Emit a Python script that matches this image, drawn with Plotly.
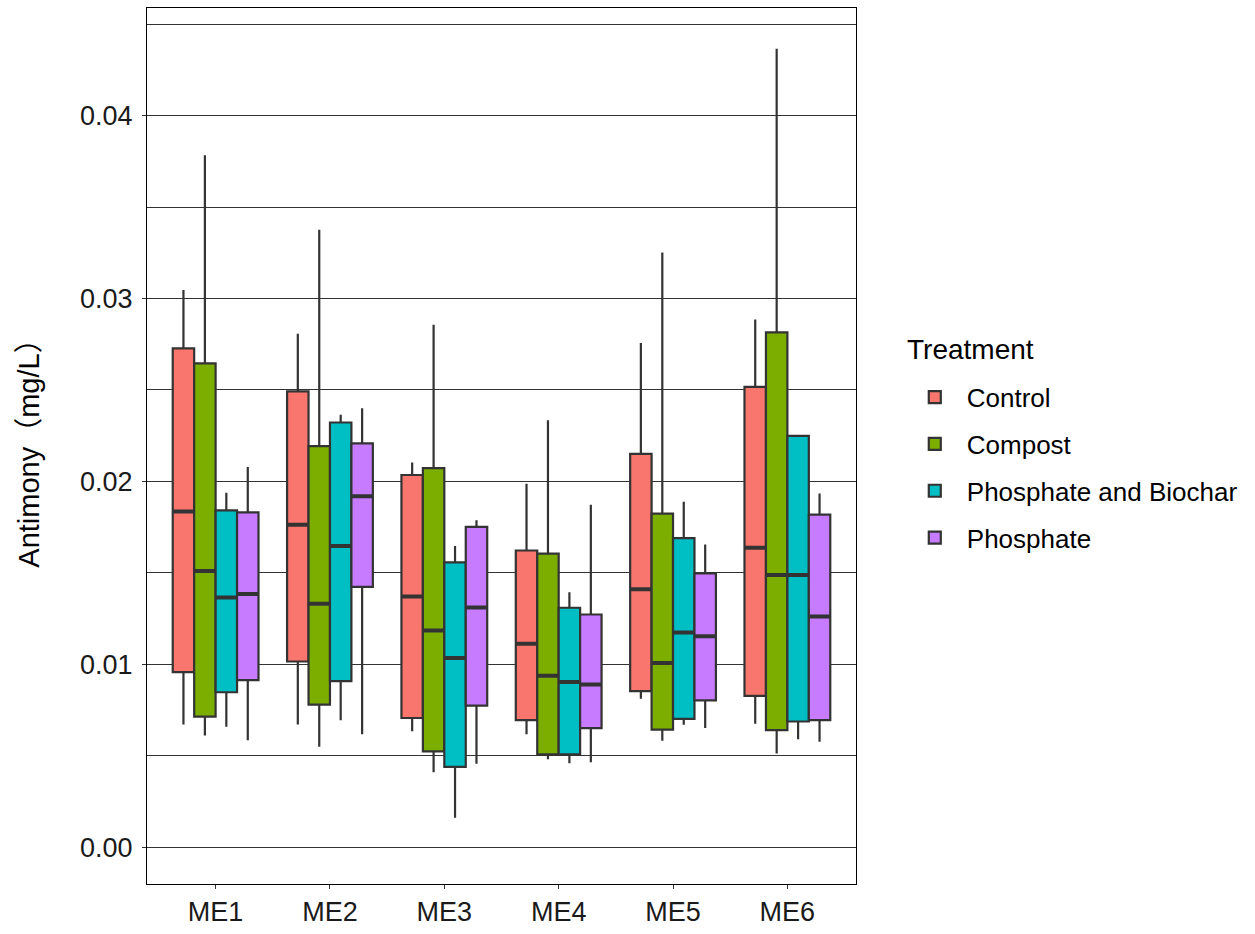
import plotly.graph_objects as go

categories = ["ME1", "ME2", "ME3", "ME4", "ME5", "ME6"]
treatments = ["Control", "Compost", "Phosphate and Biochar", "Phosphate"]
colors = ["#F8766D", "#7CAE00", "#00BFC4", "#C77CFF"]

# lower whisker, q1, median, q3, upper whisker per treatment (ME1..ME6)
control_low = [0.0067, 0.0067, 0.00634, 0.00617, 0.00812, 0.00675]
control_q1 = [0.00957, 0.01015, 0.00706, 0.00694, 0.00853, 0.00827]
control_med = [0.01836, 0.01763, 0.0137, 0.01112, 0.0141, 0.01637]
control_q3 = [0.02727, 0.02492, 0.02035, 0.01622, 0.0215, 0.02517]
control_up = [0.03046, 0.02807, 0.02103, 0.01987, 0.02757, 0.02885]

compost_low = [0.0061, 0.00549, 0.0041, 0.00481, 0.00582, 0.00512]
compost_q1 = [0.00714, 0.00779, 0.00524, 0.00507, 0.00643, 0.0064]
compost_med = [0.0151, 0.01331, 0.01185, 0.00937, 0.01007, 0.01488]
compost_q3 = [0.02645, 0.02193, 0.02072, 0.01605, 0.01824, 0.02815]
compost_up = [0.03784, 0.03376, 0.02856, 0.02334, 0.03252, 0.04366]

pb_low = [0.00658, 0.00694, 0.0016, 0.00459, 0.00669, 0.0059]
pb_q1 = [0.00847, 0.00908, 0.00439, 0.00507, 0.00701, 0.00687]
pb_med = [0.01365, 0.01646, 0.01034, 0.00903, 0.01173, 0.01488]
pb_q3 = [0.01841, 0.02322, 0.01557, 0.01309, 0.0169, 0.02249]
pb_up = [0.01938, 0.02365, 0.01646, 0.01394, 0.01888, 0.02249]

ph_low = [0.00585, 0.00617, 0.00456, 0.00464, 0.00652, 0.00576]
ph_q1 = [0.00913, 0.01423, 0.00774, 0.00651, 0.00803, 0.00695]
ph_med = [0.01384, 0.01919, 0.01311, 0.00889, 0.01153, 0.01261]
ph_q3 = [0.01831, 0.02208, 0.01751, 0.01272, 0.01497, 0.01818]
ph_up = [0.02079, 0.024, 0.01787, 0.01872, 0.01655, 0.01934]

stats = [
    (control_low, control_q1, control_med, control_q3, control_up),
    (compost_low, compost_q1, compost_med, compost_q3, compost_up),
    (pb_low, pb_q1, pb_med, pb_q3, pb_up),
    (ph_low, ph_q1, ph_med, ph_q3, ph_up),
]

y_ticks = [0.0, 0.01, 0.02, 0.03, 0.04]
y_labels = ["0.00", "0.01", "0.02", "0.03", "0.04"]

fig = go.Figure()
for name, col, (lo, q1, med, q3, up) in zip(treatments, colors, stats):
    fig.add_trace(go.Box(
        name=name,
        x=categories,
        lowerfence=lo, q1=q1, median=med, q3=q3, upperfence=up,
        fillcolor=col,
        line=dict(color="#333333", width=2.2),
        boxpoints=False,
        whiskerwidth=0,
        legendgroup=name,
        offsetgroup=name,
    ))
# thicker median bars (ggplot style), drawn at the same offsets
for name, col, (lo, q1, med, q3, up) in zip(treatments, colors, stats):
    fig.add_trace(go.Box(
        name=name,
        x=categories,
        lowerfence=med, q1=med, median=med, q3=med, upperfence=med,
        fillcolor=col,
        line=dict(color="#333333", width=4),
        boxpoints=False,
        whiskerwidth=0,
        legendgroup=name,
        offsetgroup=name,
        showlegend=False,
        hoverinfo="skip",
    ))

fig.add_annotation(
    text="Treatment", xref="paper", yref="paper",
    x=(905 - 147) / 709, y=(886 - 350) / 879,
    xanchor="left", yanchor="middle", showarrow=False,
    font=dict(size=28, color="black"),
)

fig.update_layout(
    width=1255, height=934,
    boxmode="group", boxgap=0.25, boxgroupgap=0.0,
    plot_bgcolor="white", paper_bgcolor="white",
    margin=dict(l=147, r=399, t=7, b=48),
    font=dict(family="Liberation Sans, Noto Sans CJK KR, Arial, sans-serif", size=26, color="black"),
    legend=dict(
        x=1.066, xanchor="left", y=0.5825, yanchor="top",
        font=dict(size=26), tracegroupgap=10,
        itemwidth=54,
        bgcolor="rgba(0,0,0,0)",
    ),
    xaxis=dict(
        type="category", range=[-0.6, 5.6],
        showgrid=False, showline=True, mirror=True, linecolor="black", linewidth=1,
        ticks="outside", ticklen=4, tickcolor="#333333",
        tickfont=dict(size=27, color="#1a1a1a"),
    ),
    yaxis=dict(
        range=[-0.002016, 0.045886],
        tickvals=y_ticks, ticktext=y_labels,
        showgrid=True, gridcolor="#333333", gridwidth=0.8,
        zeroline=False,
        showline=True, mirror=True, linecolor="black", linewidth=1,
        ticks="outside", ticklen=4, tickcolor="#333333",
        tickfont=dict(size=27, color="#1a1a1a"),
        ticklabelstandoff=4,
        minor=dict(tick0=0.005, dtick=0.01, showgrid=True, gridcolor="#333333", gridwidth=0.8, ticks=""),
        title=dict(text="Antimony（mg/L）", font=dict(size=29), standoff=31),
    ),
)

fig.write_html("out.html")
